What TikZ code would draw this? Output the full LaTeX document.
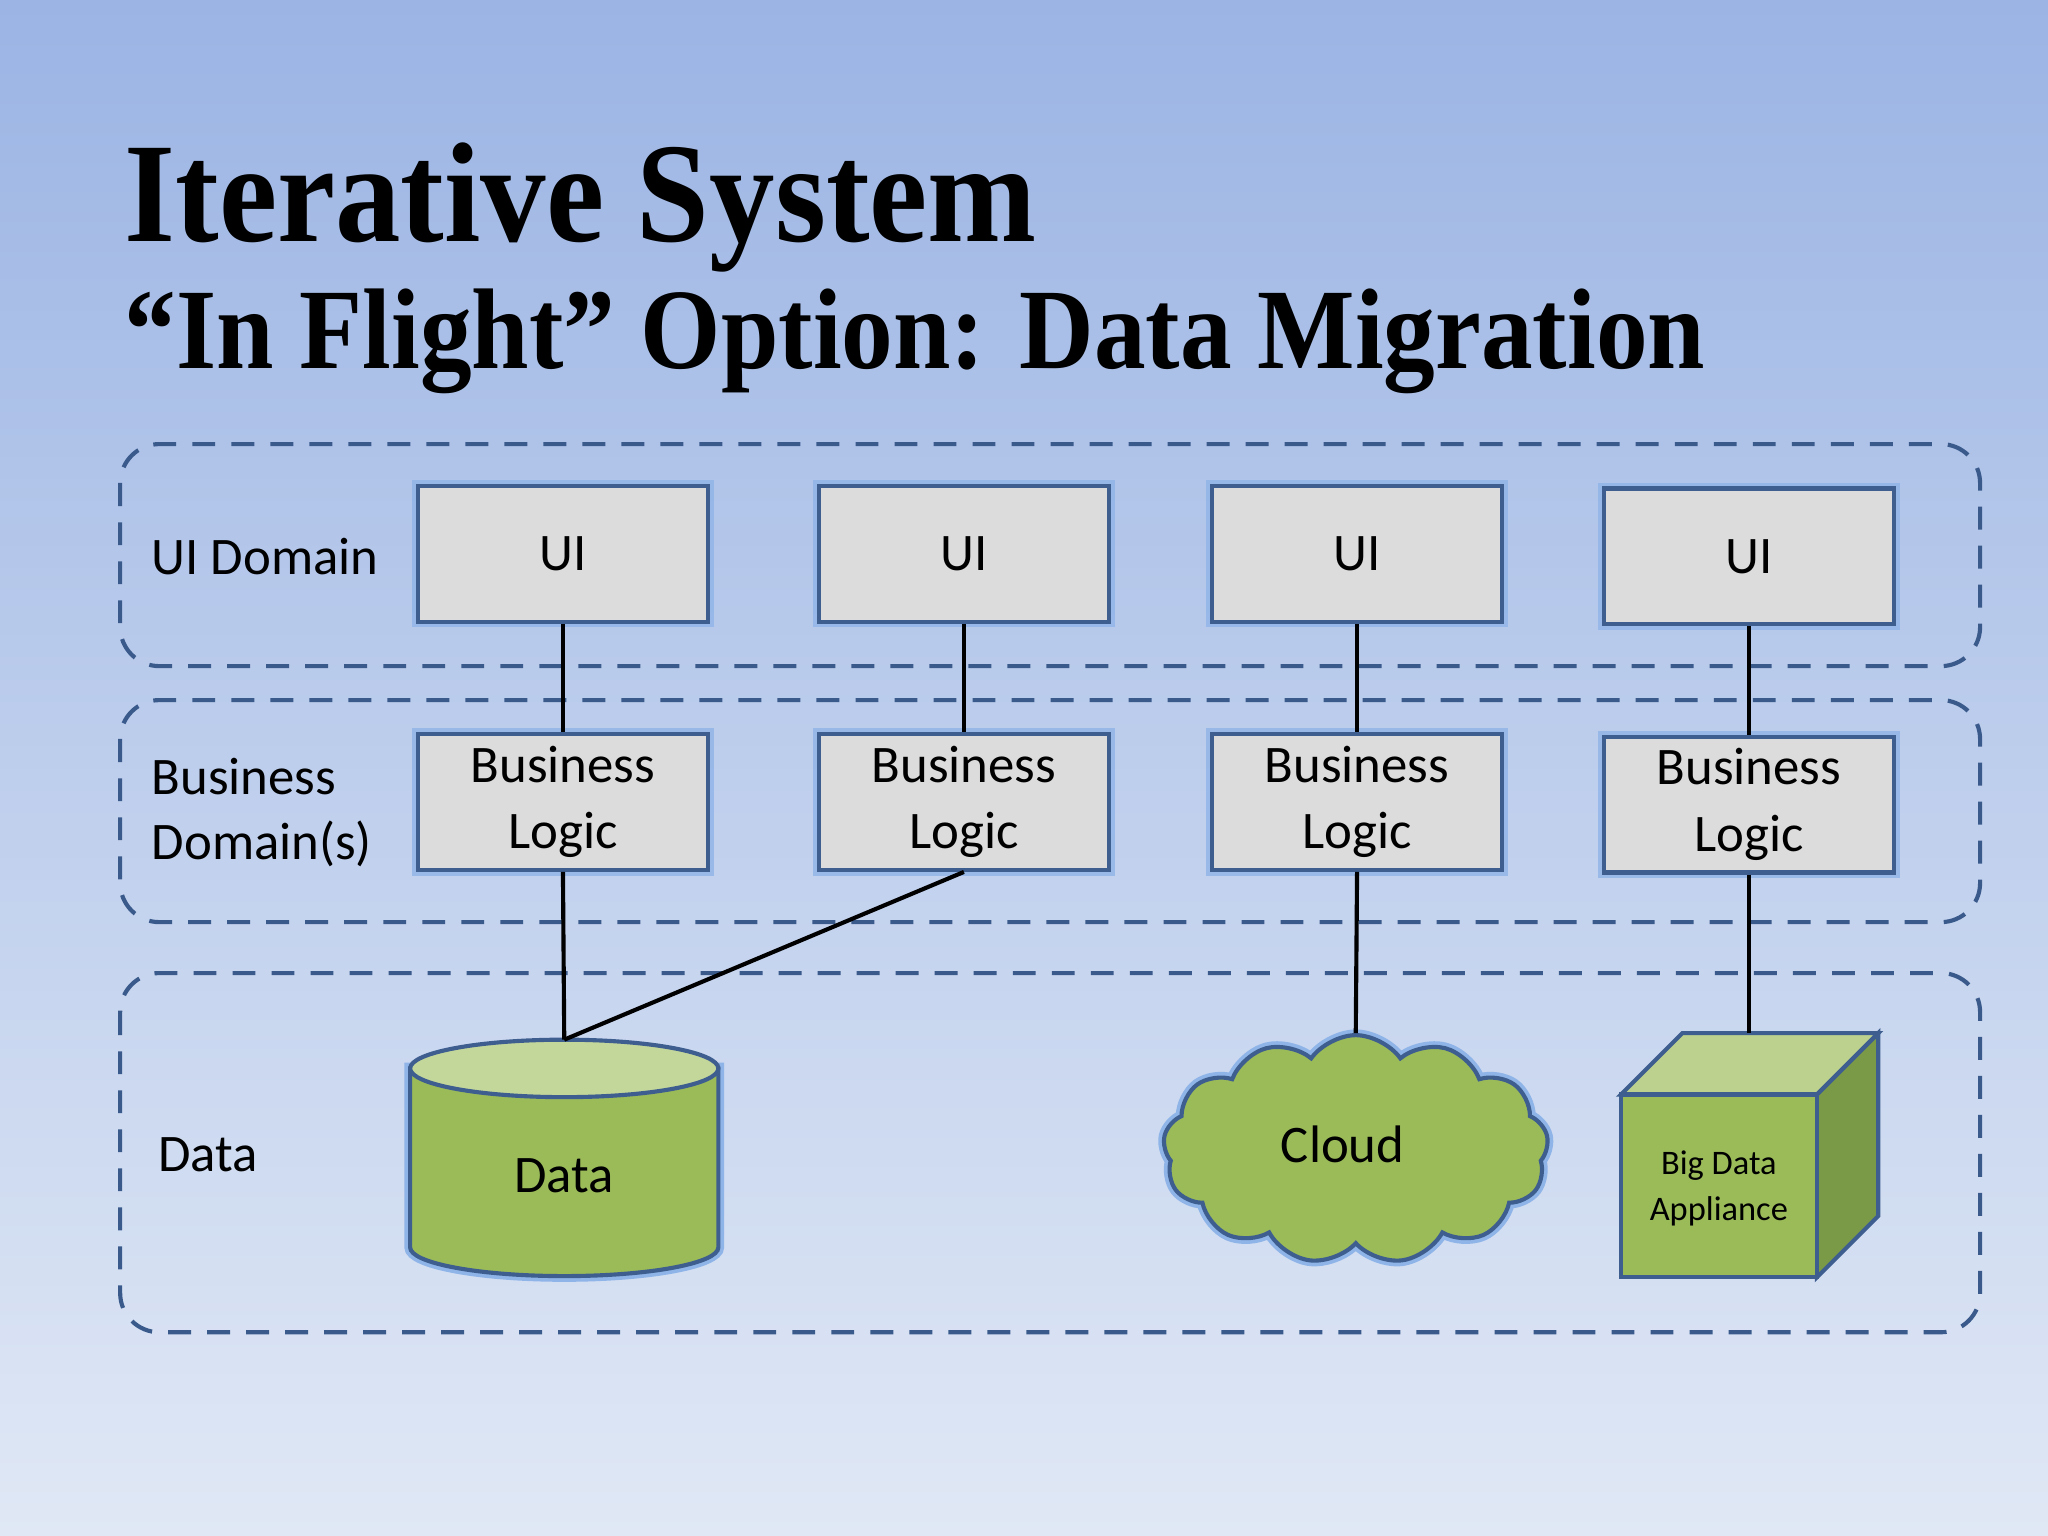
\documentclass[tikz,border=0pt]{standalone}
\usepackage{fontspec}
\setmainfont{Carlito}
\newfontfamily\ttlfont{Liberation Serif}
\usetikzlibrary{shapes.symbols,shapes.geometric}
\definecolor{bord}{HTML}{3D5E8F}
\definecolor{dash}{HTML}{3A5A8C}
\definecolor{boxf}{HTML}{DCDCDC}
\definecolor{grn}{HTML}{9BBB59}
\definecolor{lgrn}{HTML}{C4D79B}
\definecolor{dgrn}{HTML}{7A9A48}
\definecolor{glow}{HTML}{8FB4E8}
\definecolor{bgtop}{HTML}{9BB4E4}
\definecolor{bgbot}{HTML}{E0E8F5}
\tikzset{
 box/.style={draw=bord,line width=1.8pt,fill=boxf,minimum width=4.44cm,minimum height=2.08cm,align=center,font=\fontsize{23}{27}\selectfont,
   preaction={draw=glow,line width=5pt,opacity=0.8}},
 region/.style={draw=dash,line width=1.8pt,dash pattern=on 10pt off 7pt,rounded corners=0.6cm},
 lab/.style={anchor=west,align=left,font=\fontsize{23}{28}\selectfont},
 conn/.style={line width=1.8pt,black},
 shp/.style={draw=bord,line width=1.8pt}
}
\begin{document}
\begin{tikzpicture}[x=0.02cm,y=-0.02cm]
\shade[top color=bgtop,bottom color=bgbot] (0,0) rectangle (1568,1176);
\useasboundingbox (0,0) rectangle (1568,1176);
\node[anchor=base west,inner sep=0,font=\ttlfont\bfseries\fontsize{62}{70}\selectfont,xscale=0.92] (t1) at (95,185) {Iterative System};
\node[anchor=base west,inner sep=0,font=\ttlfont\bfseries\fontsize{50}{60}\selectfont,xscale=0.9] (t2) at (95,282) {“In Flight” Option: Data Migration};
\draw[region] (92,340) rectangle (1516,510);
\draw[region] (92,536) rectangle (1516,706);
\draw[region] (92,745) rectangle (1516,1020);
\node[lab] (l1) at (110,426) {UI Domain};
\node[lab] (l2) at (110,622) {Business\\Domain(s)};
\node[lab] (l3) at (115,884) {Data};
\foreach \i/\x/\y in {1/431/424,2/738/424,3/1039/424,4/1339/426}{
 \node[box] (u\i) at (\x,\y) {UI};
 \node[box,font=\fontsize{23}{29}\selectfont] (b\i) at (\x,\y+190) {Business\\Logic};
 \draw[conn] (u\i.south) -- (b\i.north);
}
% cylinder
\draw[draw=glow,line width=5pt,fill=grn] (314,818) -- (314,955) arc[start angle=180,end angle=0,x radius=118,y radius=22] -- (550,818) -- cycle;
\draw[shp,fill=grn] (314,818) -- (314,955) arc[start angle=180,end angle=0,x radius=118,y radius=22] -- (550,818) -- cycle;
\draw[shp,fill=lgrn] (432,818) ellipse[x radius=118,y radius=22];
\node[font=\fontsize{23}{27}\selectfont] (d) at (432,900) {Data};
\coordinate (dtop) at (432,796);
% cloud
\node[cloud,cloud puffs=13,cloud puff arc=110,aspect=1.6,draw=bord,line width=1.8pt,fill=grn,minimum width=5.9cm,minimum height=3.5cm,
 preaction={draw=glow,line width=5pt}] (c) at (1038,880) {};
\node[font=\fontsize{23}{27}\selectfont] (ct) at (1028,876) {Cloud};
% cube
\draw[shp,fill=dgrn] (1391,838) -- (1438,791) -- (1438,931) -- (1391,978) -- cycle;
\draw[shp,fill=lgrn!80!grn] (1241,838) -- (1288,791) -- (1438,791) -- (1391,838) -- cycle;
\draw[shp,fill=grn] (1241,838) rectangle (1391,978);
\node[align=center,font=\fontsize{15}{20}\selectfont] (bd) at (1316,910) {Big Data\\Appliance};
\coordinate (cubetop) at (1339,791);
\draw[conn] (b1.south) -- (dtop);
\draw[conn] (b2.south) -- (dtop);
\draw[conn] (b3.south) -- (c.north);
\draw[conn] (b4.south) -- (cubetop);
\end{tikzpicture}
\end{document}
